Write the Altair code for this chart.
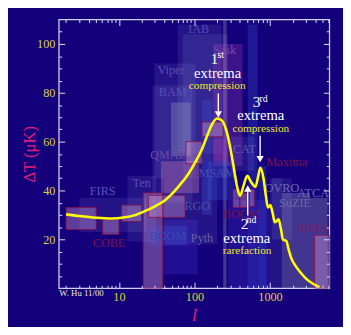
import altair as alt
import pandas as pd

# ---------------- data ----------------
ell = [2, 3, 5, 8, 12, 16, 22, 30, 40, 50, 63, 80, 100, 126, 150, 170, 200, 230, 265, 300,
       335, 370, 400, 447, 500, 560, 640, 700, 745, 820, 880, 940, 1010, 1080, 1160, 1230,
       1300, 1400, 1480, 1560, 1640, 1760, 1900, 2260, 2600, 3050, 3700, 4520]
dT = [30.2, 29.5, 28.8, 28.5, 29.0, 29.8, 31.5, 33.5, 35.8, 38.5, 42, 46, 51, 57, 63, 67, 69.5,
      68.7, 64.5, 57, 48.5, 41, 37.8, 42, 46, 43.5, 41.5, 46, 49.3, 45, 38, 33, 34, 31, 27,
      27.5, 28.2, 24, 20, 19.6, 19.4, 16, 12.5, 8.4, 6, 3.7, 1.8, 0.4]

box_l0 = [60, 70, 29.5, 27.8, 177, 240, 507, 126, 3, 13, 21, 38.5, 40, 49, 36, 24.5, 25, 2.0,
          6.1, 10.9, 77, 126, 150, 175, 300, 280, 700, 1000, 1067, 1440, 3360, 3890, 324, 400, 533]
box_l1 = [229, 278, 104, 94, 432, 266, 683, 170, 23, 31, 38, 110, 200, 89, 115, 75, 80, 5.0,
          10, 20, 126, 240, 340, 280, 620, 1000, 900, 1450, 1940, 3360, 5800, 6100, 395, 500, 619]
box_t0 = [55, 45, 45, 35, 50, 0, 0, 30, 23, 19, 0, 5.7, 18, 54, 39, 29, 17.5, 24,
          22, 27.3, 51, 62, 36, 52, 48, 0, 0, 0, 20, 0, 0, 0, 33, 33, 33.5]
box_t1 = [108, 104, 92, 83, 100, 110, 108, 77, 37, 46, 39, 28, 45, 76, 52, 38, 25.5, 33,
          28, 34, 60, 68, 52, 61, 62, 36, 50, 45, 45, 39, 37, 21.7, 40.5, 39, 40.5]
box_kind = ["lav", "lav", "lav", "lav", "mag", "gray", "blue", "blue", "lav", "lav", "pink",
            "navy", "lav", "gray", "pinkf", "pink", "blue", "pink", "pink", "pink", "pink",
            "pink", "blue", "mag", "lav", "navy", "blue", "lav", "lav", "gray", "gray", "pink",
            "pink", "pink", "pink"]

exp_names = ["IAB", "Sask", "Viper", "BAM", "QMAP", "CAT", "Maxima", "MSAM", "Ten", "FIRS",
             "RGO", "OVRO", "ATCA", "SuZIE", "COBE", "BOOM", "Pyth", "BOOM", "BIMA"]
exp_l = [114, 253, 49, 51.5, 44.4, 459, 1670, 199, 20, 6.1, 109, 1440, 3710, 2150, 7.4, 44.4,
         126, 416, 3710]
exp_dt = [106, 97.3, 89.2, 80.1, 54.4, 57, 51.7, 47.2, 43.2, 39.7, 33.6, 41, 39, 34.8, 18.4,
          21.2, 20.4, 30.4, 24.4]
exp_col = ["#5a4ab0", "#7a4aa8", "#5a50b8", "#5a50b8", "#6a4aa8", "#5a5ab8", "#7a1250",
           "#4a4ab0", "#5a50b8", "#5a55bc", "#5050a8", "#6a6ab8", "#6a6ab8", "#6a6aa8",
           "#7a1250", "#3a48b8", "#6a60a0", "#7a1250", "#7a2068"]

ann_text = ["1", "st", "extrema", "compression",
            "3", "rd", "extrema", "compression",
            "2", "nd", "extrema", "rarefaction",
            "W. Hu 11/00"]
ann_l = [184, 223, 203, 200,
         664, 823, 755, 755,
         461, 568, 492, 497,
         1.62]
ann_dt = [93.6, 95.6, 88, 82.7,
          76, 77.6, 71, 65,
          26.4, 28, 20.4, 15,
          -2.2]
ann_size = [16, 10, 15, 11.5, 16, 10, 15, 11.5, 16, 10, 15, 11.5, 9]
ann_col = ["#ffffff", "#ffffff", "#ffffff", "#f0e82a",
           "#ffffff", "#ffffff", "#ffffff", "#f0e82a",
           "#ffffff", "#ffffff", "#ffffff", "#f0e82a",
           "#eeeed0"]
ann_align = ["center"] * 12 + ["left"]

arrow_l = [207, 740, 507]
arrow_top = [79.7, 62.4, 41]
arrow_bot = [72, 54, 29.7]
head_dt = [71.2, 52.8, 40.8]
head_shape = ["triangle-down", "triangle-down", "triangle-up"]

x_major = [10, 100, 1000]
x_minor = [2, 3, 4, 5, 6, 7, 8, 9, 20, 30, 40, 50, 60, 70, 80, 90,
           200, 300, 400, 500, 600, 700, 800, 900, 2000, 3000, 4000, 5000, 6000]
y_major = [20, 40, 60, 80, 100]
y_minor = [5, 10, 15, 25, 30, 35, 45, 50, 55, 65, 70, 75, 85, 90, 95, 105]

# ---------------- styling ----------------
BG = "#14007a"
FRAME = "#cfcfee"
YEL = "#d9d23c"
MAG = "#e0207e"
FONT = "Liberation Serif"
W, H = 277, 275

kind_dom = ["lav", "gray", "pink", "pinkf", "blue", "navy", "mag"]
kind_fill = ["#8484d4", "#a4a4c0", "#d8a0d0", "#c878b0", "#4060e8", "#3020b0", "#a040b0"]
kind_op = [0.15, 0.32, 0.38, 0.36, 0.25, 0.45, 0.3]

curve = pd.DataFrame({"l": ell, "dt": dT})
boxes = pd.DataFrame({"l0": box_l0, "l1": box_l1, "t0": box_t0, "t1": box_t1, "kind": box_kind})
boxes["op"] = [kind_op[kind_dom.index(k)] for k in box_kind]
exps = pd.DataFrame({"name": exp_names, "l": exp_l, "dt": exp_dt, "col": exp_col})
anns = pd.DataFrame({"t": ann_text, "l": ann_l, "dt": ann_dt, "fs": ann_size, "col": ann_col,
                     "al": ann_align})
arrows = pd.DataFrame({"l": arrow_l, "top": arrow_top, "bot": arrow_bot, "hd": head_dt,
                       "shape": head_shape})

xs = alt.Scale(type="log", domain=[1.6, 6100], nice=False)
ys = alt.Scale(domain=[0, 110], nice=False, zero=False)

rects = alt.Chart(boxes).mark_rect().encode(
    x=alt.X("l0:Q", scale=xs, axis=None), x2="l1:Q",
    y=alt.Y("t0:Q", scale=ys, axis=None), y2="t1:Q",
    color=alt.Color("kind:N", scale=alt.Scale(domain=kind_dom, range=kind_fill), legend=None),
    opacity=alt.Opacity("op:Q", scale=None),
)
outlines = alt.Chart(boxes).transform_filter(alt.datum.kind == "pink").mark_rect(
    fill=None, stroke="#8a0e4a", strokeWidth=1, strokeOpacity=0.85
).encode(
    x=alt.X("l0:Q", scale=xs, axis=None), x2="l1:Q",
    y=alt.Y("t0:Q", scale=ys, axis=None), y2="t1:Q",
)

exp_text = alt.Chart(exps).mark_text(font=FONT, fontSize=12.5, baseline="middle").encode(
    x=alt.X("l:Q", scale=xs, axis=None), y=alt.Y("dt:Q", scale=ys, axis=None),
    text="name:N", color=alt.Color("col:N", scale=None),
)

line = alt.Chart(curve).mark_line(color="#ffff00", strokeWidth=2.6, interpolate="monotone").encode(
    x=alt.X("l:Q", scale=xs, axis=alt.Axis(
        orient="bottom", values=x_major, format="d", ticks=False, domain=False, grid=False,
        labelColor=YEL, labelFont=FONT, labelFontSize=12.5, labelPadding=3,
        title="l", titleFont=FONT, titleFontStyle="italic", titleFontWeight="normal",
        titleFontSize=18, titleColor=MAG, titlePadding=4, zindex=2)),
    y=alt.Y("dt:Q", scale=ys, axis=alt.Axis(
        orient="left", values=y_major, ticks=False, domain=False, grid=False,
        labelColor=YEL, labelFont=FONT, labelFontSize=12.5, labelPadding=4,
        title="ΔT (μK)", titleFont=FONT, titleFontWeight="normal", titleFontSize=17,
        titleColor=MAG, titlePadding=-2, zindex=2)),
)

ann_layers = []
for al in ["center", "left"]:
    ann_layers.append(
        alt.Chart(anns).transform_filter(alt.datum.al == al).mark_text(
            font=FONT, baseline="middle", align=al).encode(
            x=alt.X("l:Q", scale=xs, axis=None), y=alt.Y("dt:Q", scale=ys, axis=None),
            text="t:N", size=alt.Size("fs:Q", scale=None), color=alt.Color("col:N", scale=None),
        )
    )

arrow_rules = alt.Chart(arrows).mark_rule(color="white", strokeWidth=1.4).encode(
    x=alt.X("l:Q", scale=xs, axis=None), y=alt.Y("top:Q", scale=ys, axis=None), y2="bot:Q")
heads = alt.Chart(arrows).mark_point(filled=True, color="white", opacity=1, size=55).encode(
    x=alt.X("l:Q", scale=xs, axis=None), y=alt.Y("hd:Q", scale=ys, axis=None),
    shape=alt.Shape("shape:N", scale=None))


def tick_layer(ch, orient, values, size):
    ax = alt.Axis(orient=orient, values=values, tickSize=size, offset=-size, labels=False,
                  domain=False, grid=False, title=None, ticks=True, tickColor=FRAME,
                  tickWidth=1.1, zindex=2)
    if ch == "x":
        enc = dict(x=alt.X("l:Q", scale=xs, axis=ax), y=alt.Y("dt:Q", scale=ys, axis=None))
    else:
        enc = dict(x=alt.X("l:Q", scale=xs, axis=None), y=alt.Y("dt:Q", scale=ys, axis=ax))
    return alt.Chart(curve).mark_point(opacity=0).encode(**enc)


ticks = [
    tick_layer("x", "bottom", x_major, 6), tick_layer("x", "bottom", x_minor, 3),
    tick_layer("x", "top", x_major, 6), tick_layer("x", "top", x_minor, 3),
    tick_layer("y", "left", y_major, 6), tick_layer("y", "left", y_minor, 3),
    tick_layer("y", "right", y_major, 6), tick_layer("y", "right", y_minor, 3),
]

chart = alt.layer(
    rects, outlines, exp_text, line, *ann_layers, arrow_rules, heads, *ticks
).resolve_axis(x="independent", y="independent").properties(
    width=W, height=H,
    autosize=alt.AutoSizeParams(type="none"),
    padding={"left": 52, "top": 8, "right": 14, "bottom": 36},
    background=BG,
).configure_view(stroke=FRAME, strokeWidth=1.3)

chart.save("out.html", embed_options={"renderer": "svg", "actions": False})
